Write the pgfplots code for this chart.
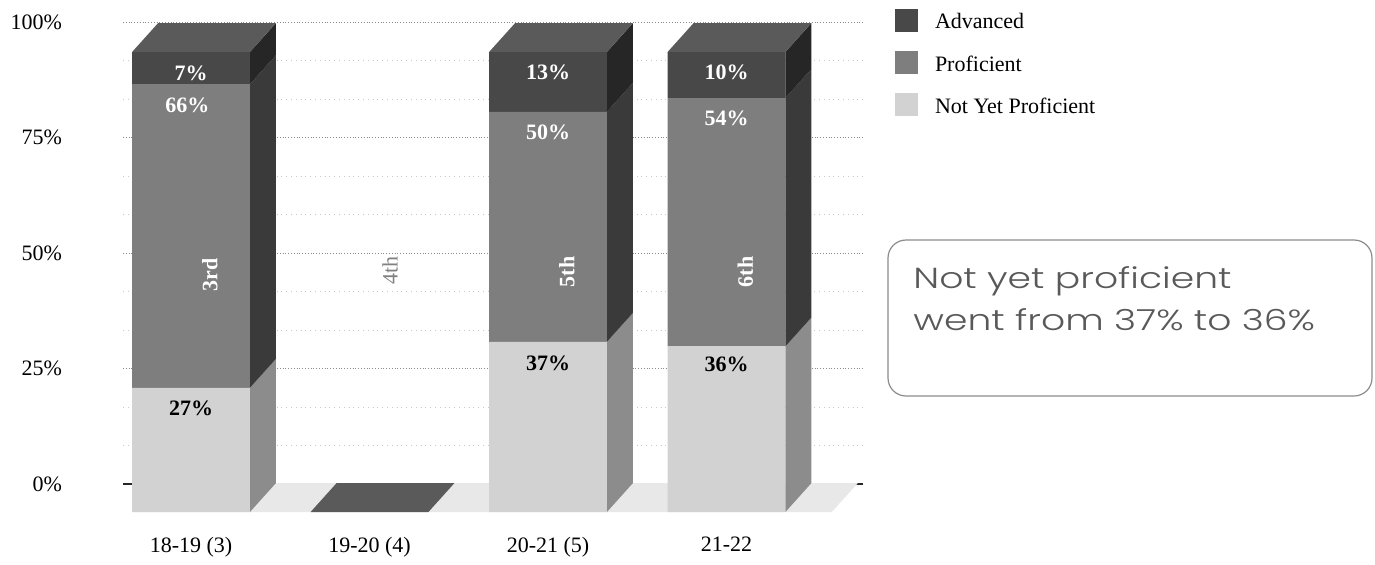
\documentclass[border=0pt]{standalone}
\usepackage{pgfplots}
\pgfplotsset{compat=1.18}
\usepackage{fontspec}
\setmainfont{Liberation Serif}
\newfontfamily\boxfont{Poppins}[UprightFont={* Light}, FakeStretch=1.3]
\definecolor{advF}{HTML}{484848}
\definecolor{advS}{HTML}{262626}
\definecolor{proF}{HTML}{7E7E7E}
\definecolor{proS}{HTML}{3A3A3A}
\definecolor{nypF}{HTML}{D2D2D2}
\definecolor{nypS}{HTML}{8C8C8C}
\definecolor{topC}{HTML}{5A5A5A}
\definecolor{floorC}{HTML}{E8E8E8}
\newcommand{\lf}{\fontsize{11}{13}\selectfont}
\pgfplotsset{frontaxis/.style={
  at={(50.875pt,26pt)}, anchor=south west, scale only axis,
  width=357pt, height=230pt,
  xmin=-0.5, xmax=3.5, ymin=0, ymax=100, clip=false}}
\begin{document}
\begin{tikzpicture}[x=1pt,y=1pt]
\path[use as bounding box] (0,0) rectangle (687.5,282);
% back plane with gridlines
\begin{axis}[
  at={(61.5pt,40pt)}, anchor=south west, scale only axis,
  width=370pt, height=231pt,
  xmin=0, xmax=1, ymin=0, ymax=100,
  axis x line*=bottom, axis y line*=left,
  x axis line style={-, draw=black!85, line width=0.8pt},
  y axis line style={draw=none},
  xtick=\empty,
  ytick={0,25,50,75,100},
  yticklabels={0\%,25\%,50\%,75\%,100\%},
  minor y tick num=2,
  ymajorgrids, yminorgrids,
  major grid style={densely dotted, draw=black!45, line width=0.5pt},
  minor grid style={dotted, draw=black!22, line width=0.4pt},
  major tick length=0pt, minor tick length=0pt,
  yticklabel style={font=\lf, xshift=-27pt},
]
\addplot[draw=none, forget plot] coordinates {(0,0) (1,100)};
\end{axis}
% floor, side faces and top faces (depth of the 3D bars)
\begin{axis}[frontaxis, hide axis]
\addplot[fill=floorC, draw=none] coordinates {(-0.33,0) (3.59,0) (3.736,6.3) (-0.184,6.3)} -- cycle;
\addplot[fill=topC, draw=none] coordinates {(0.67,0) (1.33,0) (1.476,6.3) (0.816,6.3)} -- cycle;
% bar 18-19
\addplot[fill=nypS, draw=none] coordinates {(0.33,0) (0.476,6.3) (0.476,33.3) (0.33,27)} -- cycle;
\addplot[fill=proS, draw=none] coordinates {(0.33,27) (0.476,33.3) (0.476,99.3) (0.33,93)} -- cycle;
\addplot[fill=advS, draw=none] coordinates {(0.33,93) (0.476,99.3) (0.476,106.3) (0.33,100)} -- cycle;
\addplot[fill=topC, draw=none] coordinates {(-0.33,100) (0.33,100) (0.476,106.3) (-0.184,106.3)} -- cycle;
% bar 20-21
\addplot[fill=nypS, draw=none] coordinates {(2.33,0) (2.476,6.3) (2.476,43.3) (2.33,37)} -- cycle;
\addplot[fill=proS, draw=none] coordinates {(2.33,37) (2.476,43.3) (2.476,93.3) (2.33,87)} -- cycle;
\addplot[fill=advS, draw=none] coordinates {(2.33,87) (2.476,93.3) (2.476,106.3) (2.33,100)} -- cycle;
\addplot[fill=topC, draw=none] coordinates {(1.67,100) (2.33,100) (2.476,106.3) (1.816,106.3)} -- cycle;
% bar 21-22
\addplot[fill=nypS, draw=none] coordinates {(3.33,0) (3.476,6.3) (3.476,42.3) (3.33,36)} -- cycle;
\addplot[fill=proS, draw=none] coordinates {(3.33,36) (3.476,42.3) (3.476,96.3) (3.33,90)} -- cycle;
\addplot[fill=advS, draw=none] coordinates {(3.33,90) (3.476,96.3) (3.476,106.3) (3.33,100)} -- cycle;
\addplot[fill=topC, draw=none] coordinates {(2.67,100) (3.33,100) (3.476,106.3) (2.816,106.3)} -- cycle;
\end{axis}
% front faces: stacked bars
\begin{axis}[frontaxis,
  ybar stacked, bar width=0.66,
  axis line style={draw=none},
  major tick length=0pt,
  ytick=\empty,
  xtick={0,1,2,3},
  xticklabels={18-19 (3),19-20 (4),20-21 (5),21-22},
  xticklabel style={font=\lf, yshift=-9pt},
  legend style={at={(axis description cs:1.111,1.0935)}, anchor=north west,
    draw=none, fill=none, font=\lf, inner sep=0pt, outer sep=0pt,
    nodes={inner sep=0pt}, row sep=9.5pt},
  legend cell align=left,
  reverse legend,
  legend image code/.code={\fill[#1,draw=none] (0pt,-4.6pt) rectangle (11.5pt,6.9pt); \path (20pt,0pt);},
]
\addplot[fill=nypF, draw=none] coordinates {(0,27) (2,37) (3,36)};
\addplot[fill=proF, draw=none] coordinates {(0,66) (2,50) (3,54)};
\addplot[fill=advF, draw=none] coordinates {(0,7) (2,13) (3,10)};
\legend{Not Yet Proficient, Proficient, Advanced}
\end{axis}
% value labels and grade labels on top
\begin{axis}[frontaxis, hide axis,
  every node near coord/.append style={anchor=center, font=\lf\bfseries},
  point meta=explicit symbolic]
\addplot[only marks, mark=none, draw=none, nodes near coords,
  every node near coord/.append style={text=black}]
  coordinates {(0,22.5)[27\%] (2,32.3)[37\%] (3,32.0)[36\%]};
\addplot[only marks, mark=none, draw=none, nodes near coords,
  every node near coord/.append style={text=white}]
  coordinates {(-0.02,88.5)[66\%] (2,82.5)[50\%] (3,85.5)[54\%]
               (0,95.4)[7\%] (2,95.5)[13\%] (3,95.5)[10\%]};
\node[rotate=90, font=\lf\bfseries, text=white] at (axis cs:0.106,51.5) {3rd};
\node[rotate=90, font=\lf, text=black!50] at (axis cs:1.115,52.5) {4th};
\node[rotate=90, font=\lf\bfseries, text=white] at (axis cs:2.106,52.2) {5th};
\node[rotate=90, font=\lf\bfseries, text=white] at (axis cs:3.106,52.2) {6th};
\end{axis}
% annotation box
\draw[black!45, line width=0.6pt, rounded corners=9pt] (444,84) rectangle (686,162);
\node[anchor=base west, inner sep=0pt, text=black!65, font=\boxfont\fontsize{14.5}{18}\selectfont] at (456.5,138) {Not yet proficient};
\node[anchor=base west, inner sep=0pt, text=black!65, font=\boxfont\fontsize{14.5}{18}\selectfont] at (456.5,117) {went from 37\% to 36\%};
\end{tikzpicture}
\end{document}
